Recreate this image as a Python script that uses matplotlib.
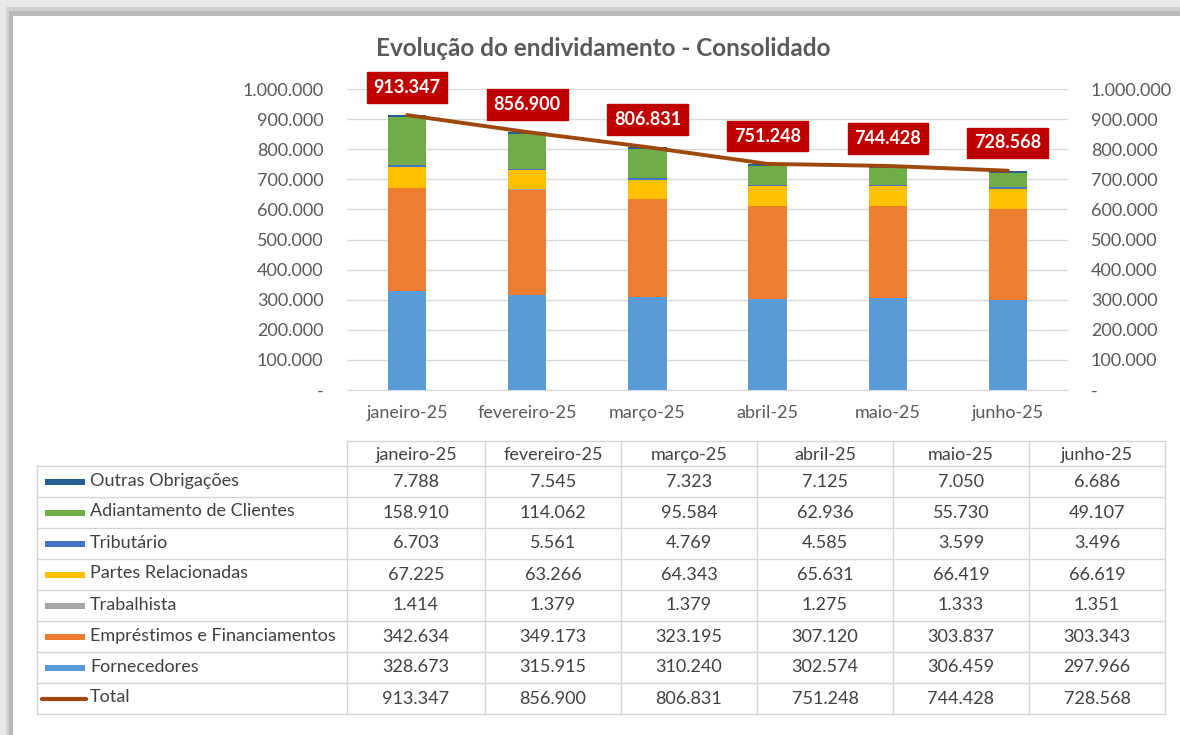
import matplotlib
matplotlib.use("Agg")
import matplotlib.pyplot as plt
from matplotlib.patches import Rectangle
import numpy as np

plt.rcParams['font.family'] = ['Lato', 'DejaVu Sans']

months = ["janeiro-25", "fevereiro-25", "março-25", "abril-25", "maio-25", "junho-25"]

fornecedores = [328673, 315915, 310240, 302574, 306459, 297966]
emprestimos = [342634, 349173, 323195, 307120, 303837, 303343]
trabalhista = [1414, 1379, 1379, 1275, 1333, 1351]
partes = [67225, 63266, 64343, 65631, 66419, 66619]
tributario = [6703, 5561, 4769, 4585, 3599, 3496]
adiantamento = [158910, 114062, 95584, 62936, 55730, 49107]
outras = [7788, 7545, 7323, 7125, 7050, 6686]
total = [913347, 856900, 806831, 751248, 744428, 728568]

# stacking order bottom -> top
stack_names = ["Fornecedores", "Empréstimos e Financiamentos", "Trabalhista",
               "Partes Relacionadas", "Tributário", "Adiantamento de Clientes",
               "Outras Obrigações"]
stack_values = [fornecedores, emprestimos, trabalhista, partes, tributario,
                adiantamento, outras]
stack_colors = ["#5B9BD5", "#ED7D31", "#A5A5A5", "#FFC000", "#4472C4",
                "#70AD47", "#255E91"]
total_color = "#9E480E"
yticks = [0, 100000, 200000, 300000, 400000, 500000, 600000, 700000, 800000,
          900000, 1000000]

W, H = 1180, 735
fig = plt.figure(figsize=(W / 100, H / 100), dpi=100)
fig.patch.set_facecolor("white")

def fmt(v):
    return f"{v:,}".replace(",", ".")

# overlay axes in pixel coordinates for frame and table
ov = fig.add_axes([0, 0, 1, 1], zorder=0)
ov.set_xlim(0, W)
ov.set_ylim(H, 0)
ov.axis("off")

# shadow frame
ov.add_patch(Rectangle((0, 0), W, 16, color="#E8E8E8", lw=0))
ov.add_patch(Rectangle((0, 0), 13, H, color="#E8E8E8", lw=0))
ov.add_patch(Rectangle((6, 7), W, 9, color="#D0D0D0", lw=0))
ov.add_patch(Rectangle((6, 7), 7, H, color="#D0D0D0", lw=0))
ov.add_patch(Rectangle((9, 11), W, 5, color="#B8B8B8", lw=0))
ov.add_patch(Rectangle((9, 11), 4, H, color="#B8B8B8", lw=0))
ov.add_patch(Rectangle((13, 16), W, H, color="white", lw=0))

text_col = "#404040"
tick_col = "#595959"
fs = 13

# main chart axes
px_l, px_r, px_t, px_b = 347, 1068, 89, 390
ax = fig.add_axes([px_l / W, 1 - px_b / H, (px_r - px_l) / W, (px_b - px_t) / H], zorder=2)
ax.patch.set_alpha(0)
x = np.arange(len(months))
bottom = np.zeros(len(months))
for name, vals, col in zip(stack_names, stack_values, stack_colors):
    ax.bar(x, vals, width=0.32, bottom=bottom, color=col, label=name, zorder=2)
    bottom += np.array(vals)
ax.plot(x, total, color=total_color, lw=2.8, zorder=3, solid_capstyle="round")
for xi, t in zip(x, total):
    ax.annotate(fmt(t), (xi, t), xytext=(0, 20), textcoords="offset points",
                ha="center", va="center", color="white", fontsize=13,
                fontweight="bold", zorder=5, annotation_clip=False,
                bbox=dict(boxstyle="square,pad=0.38", fc="#C00000", ec="#C00000"))
ax.set_xlim(-0.5, len(months) - 0.5)
ax.set_ylim(0, 1000000)
ax.set_yticks(yticks)
ax.set_yticklabels(["-"] + [fmt(v) for v in yticks[1:]])
ax.yaxis.grid(True, color="#D9D9D9", lw=1)
ax.set_axisbelow(True)
for s in ["top", "right", "left"]:
    ax.spines[s].set_visible(False)
ax.spines["bottom"].set_color("#D9D9D9")
ax.tick_params(axis="y", length=0, pad=17, labelsize=fs, labelcolor=tick_col)
ax.tick_params(axis="x", length=0, pad=11, labelsize=fs, labelcolor=tick_col)
ax.set_xticks(x)
ax.set_xticklabels(months)

ax2 = ax.twinx()
ax2.set_ylim(0, 1000000)
ax2.set_yticks(yticks)
ax2.set_yticklabels(["-"] + [fmt(v) for v in yticks[1:]])
for s in ax2.spines.values():
    s.set_visible(False)
ax2.tick_params(axis="y", length=0, pad=16.5, labelsize=fs, labelcolor=tick_col)

fig.text(603 / W, 1 - 49 / H, "Evolução do endividamento - Consolidado",
         ha="center", va="center", fontsize=17.5, fontweight="bold", color="#595959")

# data table
col_edges = [347, 485, 621, 757, 893, 1029, 1165]
label_left = 37
head_top, head_bot = 441, 466
row_h = 31
grid_col = "#D4D4D4"
rows = list(reversed(list(zip(stack_names, stack_values, stack_colors))))
n_rows = len(rows) + 1
table_bot = head_bot + n_rows * row_h

# header
ov.plot([col_edges[0], col_edges[-1]], [head_top, head_top], color=grid_col, lw=1)
for cx in col_edges:
    ov.plot([cx, cx], [head_top, table_bot], color=grid_col, lw=1)
for i, m in enumerate(months):
    ov.text((col_edges[i] + col_edges[i + 1]) / 2, (head_top + head_bot) / 2 + 1, m,
            ha="center", va="center", fontsize=fs, color=text_col)
ov.plot([label_left, label_left], [head_bot, table_bot], color=grid_col, lw=1)
for r in range(n_rows + 1):
    yy = head_bot + r * row_h
    ov.plot([label_left, col_edges[-1]], [yy, yy], color=grid_col, lw=1)

for r, (name, vals, col) in enumerate(rows):
    yc = head_bot + r * row_h + row_h / 2
    ov.add_patch(Rectangle((45, yc - 3), 40, 6, color=col, lw=0))
    ov.text(90, yc - 1, name, ha="left", va="center", fontsize=fs, color=text_col)
    for i, v in enumerate(vals):
        ov.text((col_edges[i] + col_edges[i + 1]) / 2, yc, fmt(v),
                ha="center", va="center", fontsize=fs, color=text_col)
yc = head_bot + len(rows) * row_h + row_h / 2
ov.plot([42, 86], [yc, yc], color=total_color, lw=3, solid_capstyle="round")
ov.text(90, yc - 1, "Total", ha="left", va="center", fontsize=fs, color=text_col)
for i, v in enumerate(total):
    ov.text((col_edges[i] + col_edges[i + 1]) / 2, yc, fmt(v),
            ha="center", va="center", fontsize=fs, color=text_col)

fig.savefig("out.png", dpi=100)
